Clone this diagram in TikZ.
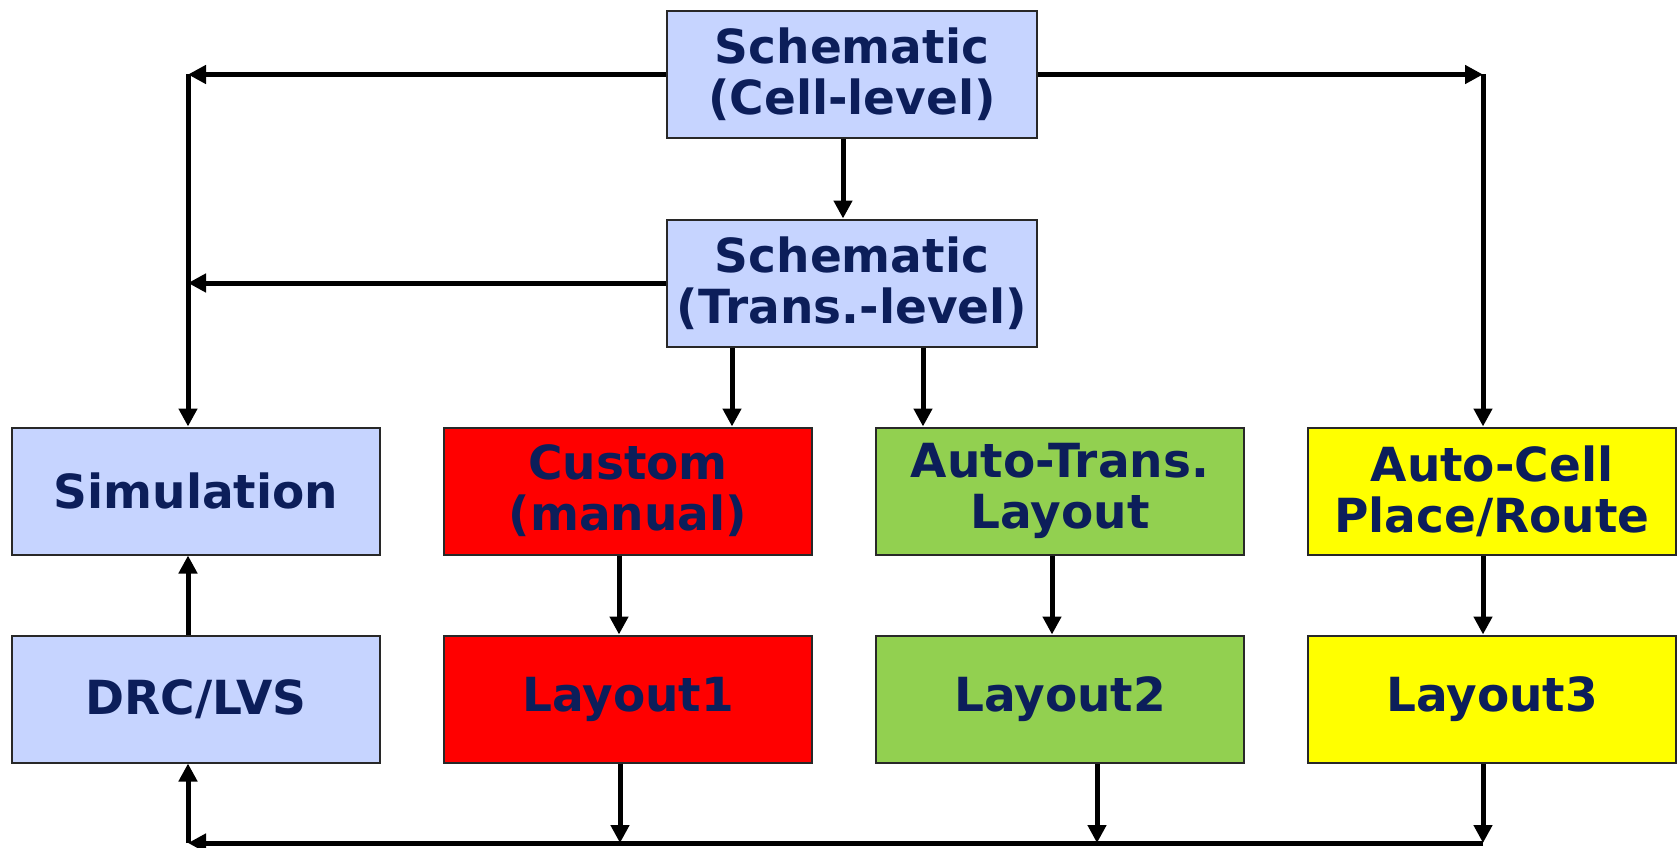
\documentclass[tikz,border=0pt]{standalone}
\usepackage{fontspec}
\setmainfont{DejaVu Sans}
\usetikzlibrary{arrows.meta}
\definecolor{navy}{RGB}{12,30,90}
\definecolor{lblue}{RGB}{198,212,255}
\definecolor{lgreen}{RGB}{146,208,80}
\definecolor{pred}{RGB}{255,0,0}
\definecolor{pyellow}{RGB}{255,255,0}
\definecolor{bord}{RGB}{40,40,40}
\tikzset{
  box/.style={draw=bord, line width=2pt, rectangle, inner sep=0pt,
    minimum width=368pt, minimum height=127pt, align=center,
    text=navy, font=\fontsize{47}{51}\selectfont\bfseries},
  arr/.style={line width=5pt, -{Triangle[length=18pt,width=18pt]}}
}
\begin{document}
\begin{tikzpicture}[x=1pt,y=-1pt]
\useasboundingbox (0,0) rectangle (1679,848);
\node[box, fill=lblue, minimum width=370pt] (cell) at (852,74.5) {Schematic\\(Cell-level)};
\node[box, fill=lblue, minimum width=370pt] (trans) at (852,283) {Schematic\\(Trans.-level)};
\node[box, fill=lblue] (sim) at (196,491) {Simulation};
\node[box, fill=pred] (cust) at (628,491) {Custom\\(manual)};
\node[box, fill=lgreen] (atr) at (1060,491) {Auto-Trans.\\Layout};
\node[box, fill=pyellow] (acell) at (1492,491) {Auto-Cell\\Place/Route};
\node[box, fill=lblue] (drc) at (196,699) {DRC/LVS};
\node[box, fill=pred] (lay1) at (628,699) {Layout1};
\node[box, fill=lgreen] (lay2) at (1060,699) {Layout2};
\node[box, fill=pyellow] (lay3) at (1492,699) {Layout3};
\coordinate (cL) at (188,74.5);
\coordinate (tL) at (188,283);
\coordinate (cR) at (1483,74.5);
\coordinate (bL) at (188,843);
\coordinate (bR) at (1483,843);
\coordinate (b1) at (620,843);
\coordinate (b2) at (1097,843);
% top connectors
\draw[arr] (cell.west) -- (cL);
\draw[arr] (cL) -- (sim.north -| cL);
\draw[arr] (trans.west) -- (tL);
\draw[arr] (cell.east) -- (cR);
\draw[arr] (cR) -- (acell.north -| cR);
\draw[arr] (843,0 |- cell.south) -- (843,0 |- trans.north);
\draw[arr] (732,0 |- trans.south) -- (732,0 |- cust.north);
\draw[arr] (923,0 |- trans.south) -- (923,0 |- atr.north);
% middle
\draw[arr] (619,0 |- cust.south) -- (619,0 |- lay1.north);
\draw[arr] (1052,0 |- atr.south) -- (1052,0 |- lay2.north);
\draw[arr] (1483,0 |- acell.south) -- (1483,0 |- lay3.north);
\draw[arr] (188,0 |- drc.north) -- (188,0 |- sim.south);
% bottom
\draw[arr] (620,0 |- lay1.south) -- (b1);
\draw[arr] (1097,0 |- lay2.south) -- (b2);
\draw[arr] (1483,0 |- lay3.south) -- (bR);
\draw[arr] (bR) -- (bL);
\draw[arr] (bL) -- (188,0 |- drc.south);
\end{tikzpicture}
\end{document}
